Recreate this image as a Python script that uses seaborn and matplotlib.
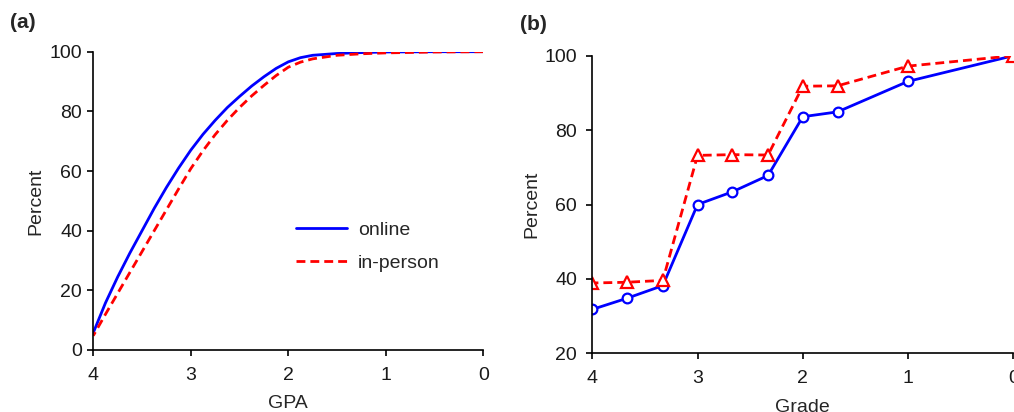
import numpy as np
import pandas as pd
import matplotlib
matplotlib.use("Agg")
import matplotlib.pyplot as plt
import seaborn as sns

# Panel (a): cumulative GPA distribution
gpa = [4.0, 3.875, 3.75, 3.625, 3.5, 3.375, 3.25, 3.125, 3.0, 2.875, 2.75, 2.625,
       2.5, 2.375, 2.25, 2.125, 2.0, 1.875, 1.75, 1.5, 1.25, 1.0, 0.5, 0.0]
online_gpa = [5.8, 15.8, 24.5, 32.5, 40.0, 47.5, 54.5, 61.0, 67.0, 72.3, 77.0, 81.3,
              85.0, 88.5, 91.6, 94.4, 96.6, 98.0, 98.8, 99.4, 99.7, 99.9, 100.0, 100.0]
inperson_gpa = [4.8, 12.0, 19.0, 26.0, 33.0, 40.0, 47.0, 54.0, 60.8, 66.8, 72.2, 77.0,
                81.3, 85.2, 88.7, 92.0, 94.8, 96.5, 97.6, 98.8, 99.3, 99.6, 99.9, 100.0]

# Panel (b): cumulative grade distribution
grade = [4.0, 3.67, 3.33, 3.0, 2.67, 2.33, 2.0, 1.67, 1.0, 0.0]
online_grade = [31.8, 34.8, 38.2, 60.0, 63.4, 67.8, 83.6, 84.9, 93.1, 100.0]
inperson_grade = [38.9, 39.1, 39.6, 73.2, 73.4, 73.3, 91.8, 91.9, 97.2, 100.0]

labels = ["online", "in-person"]
xticks = [4, 3, 2, 1, 0]

sns.set_style("ticks")
plt.rcParams['font.family'] = ['Liberation Sans', 'DejaVu Sans']
FS = 14
plt.rcParams['font.size'] = FS

W, H = 1014, 412
fig = plt.figure(figsize=(W / 100, H / 100), dpi=100)
axa = fig.add_axes([93.3 / W, (H - 350) / H, 390 / W, (350 - 51.7) / H])
axb = fig.add_axes([592.3 / W, (H - 353.3) / H, (1013.3 - 592.3) / W, (353.3 - 55.7) / H])

blue = "#0000FF"
red = "#FF0000"
dash = (0, (3.2, 1.8))

da = pd.DataFrame({"x": gpa, "online": online_gpa, "in-person": inperson_gpa})
sns.lineplot(data=da, x="x", y="online", ax=axa, color=blue, lw=2.0, label=labels[0])
sns.lineplot(data=da, x="x", y="in-person", ax=axa, color=red, lw=2.0, ls=dash, label=labels[1])

db = pd.DataFrame({"x": grade, "online": online_grade, "in-person": inperson_grade})
sns.lineplot(data=db, x="x", y="online", ax=axb, color=blue, lw=2.0, marker="o",
             markersize=7, markerfacecolor="white", markeredgecolor=blue, markeredgewidth=1.6)
sns.lineplot(data=db, x="x", y="in-person", ax=axb, color=red, lw=2.0, ls=dash, marker="^",
             markersize=8.5, markerfacecolor="white", markeredgecolor=red, markeredgewidth=1.6)

for ax in (axa, axb):
    ax.set_xlim(4, 0)
    ax.set_xticks(xticks)
    ax.set_xticklabels([str(t) for t in xticks])
    for s in ("top", "right"):
        ax.spines[s].set_visible(False)
    for s in ("left", "bottom"):
        ax.spines[s].set_linewidth(1.2)
        ax.spines[s].set_color("black")
    ax.tick_params(axis="both", length=4.5, width=1.2, color="black", labelsize=FS,
                   labelcolor="#1a1a1a")
    ax.tick_params(axis="x", pad=7.5)

axa.set_ylim(0, 100)
axa.set_yticks([0, 20, 40, 60, 80, 100])
axa.tick_params(axis="y", pad=3.5)
axa.set_ylabel("Percent", fontsize=FS, labelpad=4)
axa.set_xlabel("GPA", fontsize=FS, labelpad=8)

axb.set_ylim(20, 100)
axb.set_yticks([20, 40, 60, 80, 100])
axb.tick_params(axis="y", pad=6.5)
axb.set_ylabel("Percent", fontsize=FS, labelpad=3)
axb.set_xlabel("Grade", fontsize=FS, labelpad=9)

leg = axa.legend(loc="upper left", bbox_to_anchor=(0.476, 0.49), frameon=False, fontsize=FS,
                 handlelength=2.6, handletextpad=0.55, labelspacing=0.8)

fig.text(10 / W, 1 - 23 / H, "(a)", fontsize=15, fontweight="bold", va="center", ha="left")
fig.text(520 / W, 1 - 25 / H, "(b)", fontsize=15, fontweight="bold", va="center", ha="left")

fig.savefig("out.png", dpi=100)
